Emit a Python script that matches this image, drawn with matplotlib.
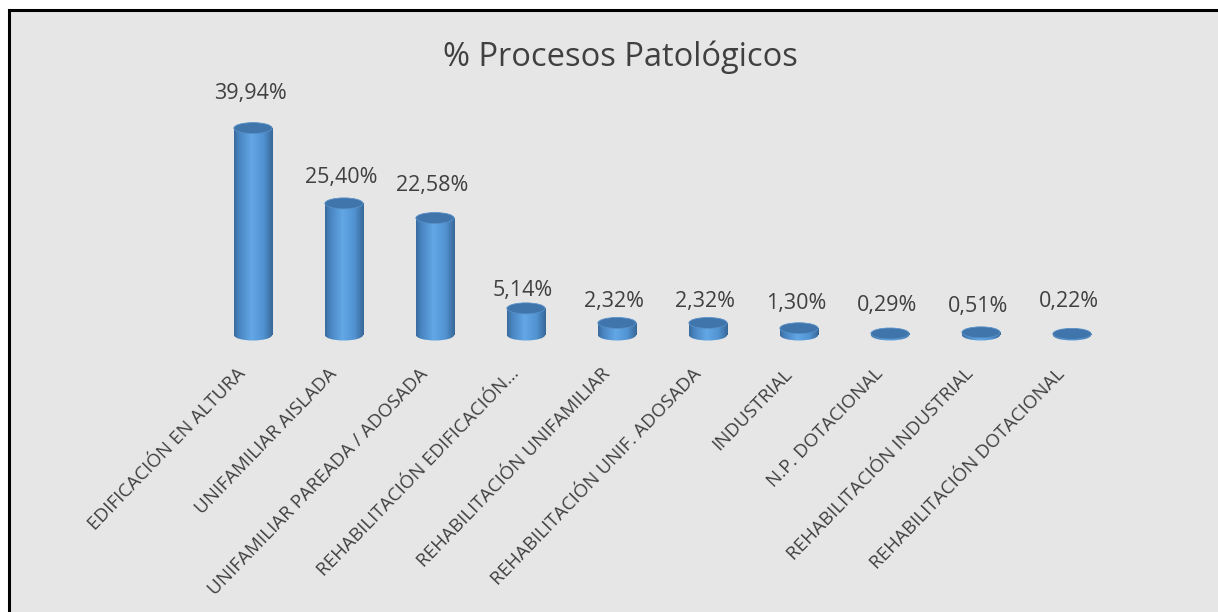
import numpy as np
import matplotlib
matplotlib.use("Agg")
import matplotlib.pyplot as plt
from matplotlib.patches import Ellipse, Rectangle
from matplotlib.colors import LinearSegmentedColormap

# ---- data ----
categories = [
    "EDIFICACIÓN EN ALTURA",
    "UNIFAMILIAR AISLADA",
    "UNIFAMILIAR PAREADA / ADOSADA",
    "REHABILITACIÓN EDIFICACIÓN...",
    "REHABILITACIÓN UNIFAMILIAR",
    "REHABILITACIÓN UNIF. ADOSADA",
    "INDUSTRIAL",
    "N.P. DOTACIONAL",
    "REHABILITACIÓN INDUSTRIAL",
    "REHABILITACIÓN DOTACIONAL",
]
values = [39.94, 25.40, 22.58, 5.14, 2.32, 2.32, 1.30, 0.29, 0.51, 0.22]
value_labels = ["39,94%", "25,40%", "22,58%", "5,14%", "2,32%", "2,32%",
                "1,30%", "0,29%", "0,51%", "0,22%"]
title = "% Procesos Patológicos"

# ---- style ----
label_dy_px = [35, 26, 33, 18, 21, 21, 25, 28, 26, 32]
FONT = ["Open Sans", "DejaVu Sans"]
TEXT_COLOR = "#404040"
BG = "#e6e6e6"
plt.rcParams["font.family"] = FONT

W, H, DPI = 1218, 612, 100
fig = plt.figure(figsize=(W / DPI, H / DPI), dpi=DPI, facecolor="white")

# chart area background with black border (left/top visible)
fig.patches.append(Rectangle((9 / W, -0.01), 1.02, (H - 10) / H + 0.01,
                             transform=fig.transFigure, facecolor=BG,
                             edgecolor="black", linewidth=2.2, zorder=-5))

px_per_unit = 5.18
ymin, ymax = -2.0, 45.0
base_px = 335
ax_left = 207.5 / W
ax_w = 910 / W
ax_bottom_px = base_px - ymin * px_per_unit
ax_h_px = (ymax - ymin) * px_per_unit
ax = fig.add_axes([ax_left, (H - ax_bottom_px) / H, ax_w, ax_h_px / H])
ax.set_zorder(2)
ax.set_facecolor("none")
ax.axis("off")

cmap = LinearSegmentedColormap.from_list(
    "cyl", [(0.0, "#3a6a9c"), (0.12, "#4783bf"), (0.45, "#63a7e6"),
            (0.75, "#5294d3"), (1.0, "#386797")])
grad = np.linspace(0, 1, 256).reshape(1, -1)

bw = 0.42
eh = 11 / px_per_unit  # ellipse height in data units
x = np.arange(len(values))
for xi, v in zip(x, values):
    rect = Rectangle((xi - bw / 2, 0), bw, v, facecolor="none", edgecolor="none")
    ax.add_patch(rect)
    im = ax.imshow(grad, cmap=cmap, aspect="auto",
                   extent=[xi - bw / 2, xi + bw / 2, -eh, v], zorder=2,
                   interpolation="bilinear")
    im.set_clip_path(rect)
    bot = Ellipse((xi, 0), bw, eh, facecolor="none", edgecolor="none")
    ax.add_patch(bot)
    im2 = ax.imshow(grad, cmap=cmap, aspect="auto",
                    extent=[xi - bw / 2, xi + bw / 2, -eh, v], zorder=2,
                    interpolation="bilinear")
    im2.set_clip_path(bot)
    ax.add_patch(Ellipse((xi, v), bw, eh, facecolor="#3f75aa",
                         edgecolor="#5890c8", linewidth=0.6, zorder=3))

ax.set_xlim(-0.5, len(values) - 0.5)
ax.set_ylim(ymin, ymax)

for xi, v, lab, dy in zip(x, values, value_labels, label_dy_px):
    ax.annotate(lab, xy=(xi, v), xytext=(-3, dy), textcoords="offset pixels",
                ha="center", va="center", fontsize=15.5, color=TEXT_COLOR,
                zorder=5, annotation_clip=False)

for xi, lab in zip(x, categories):
    ax.annotate(lab, xy=(xi, 0), xytext=(-10, -36), textcoords="offset pixels",
                ha="right", va="center", rotation=46, rotation_mode="anchor",
                fontsize=13.5, color=TEXT_COLOR, annotation_clip=False)

fig.text(620 / W, 1 - 57 / H, title, ha="center", va="center",
         fontsize=23.5, color=TEXT_COLOR)

fig.savefig("out.png", dpi=DPI, facecolor="white")
